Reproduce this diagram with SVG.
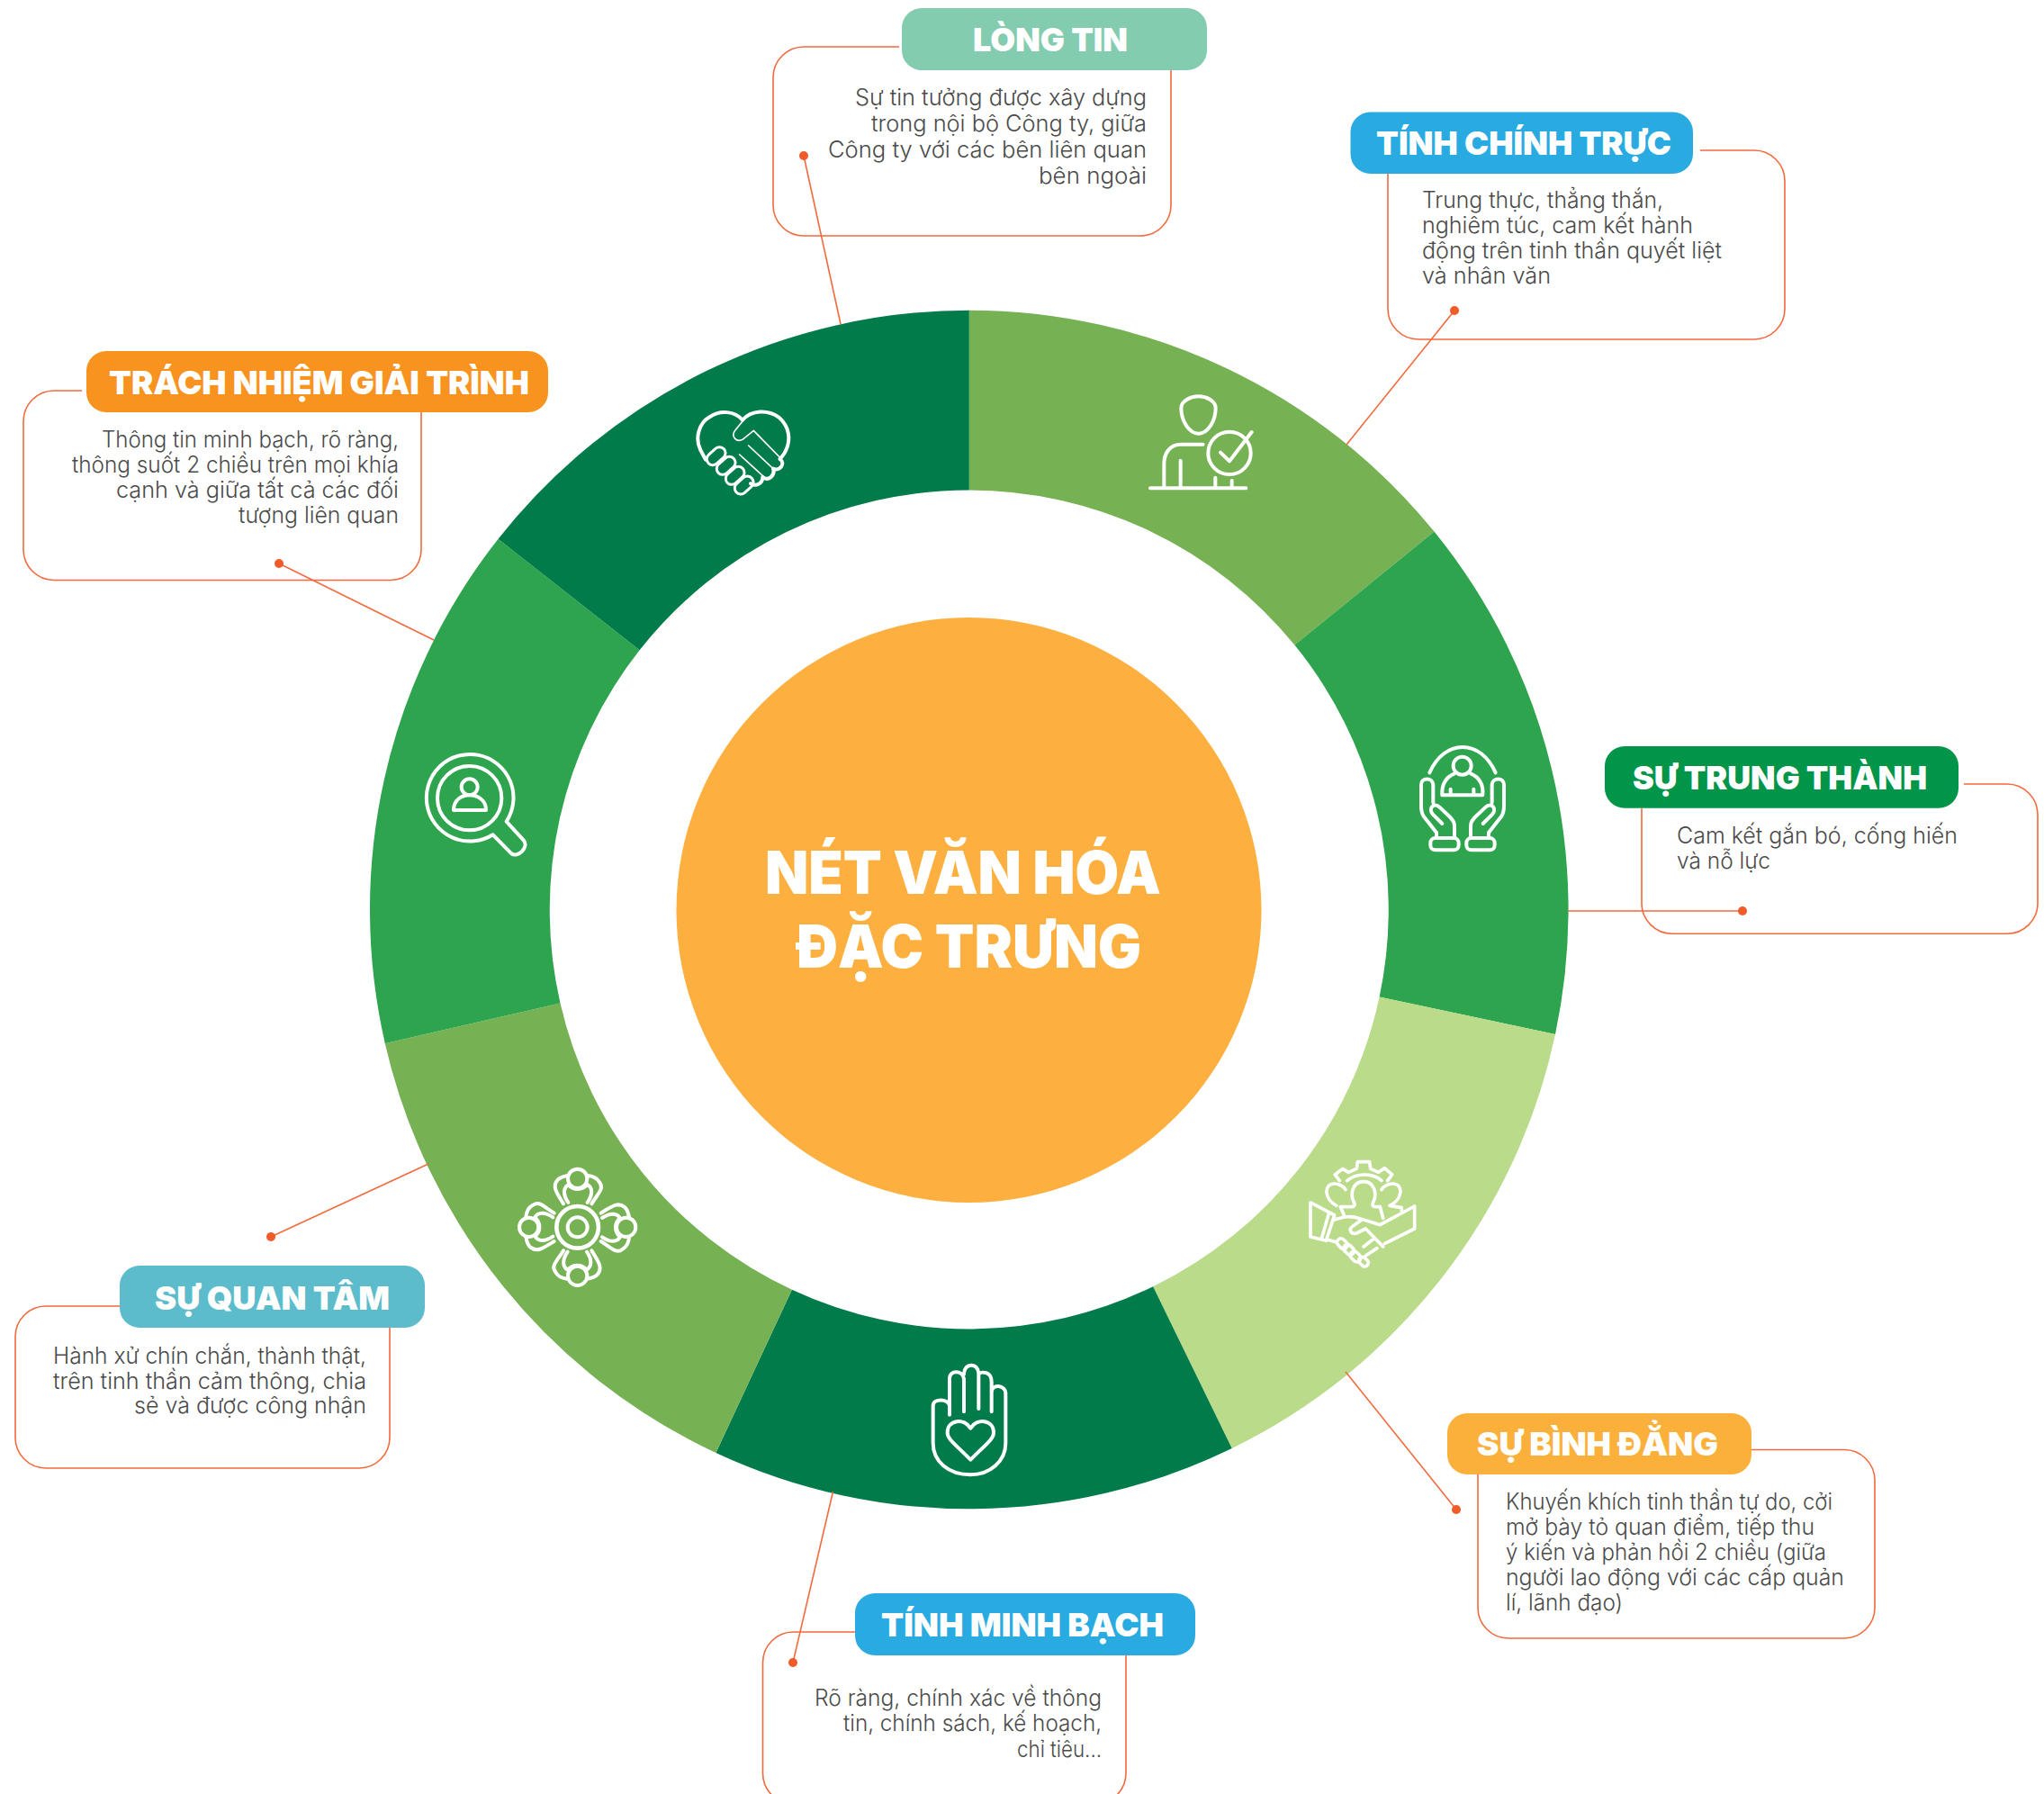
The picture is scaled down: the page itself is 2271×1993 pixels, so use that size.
<svg xmlns="http://www.w3.org/2000/svg" width="2271" height="1993" viewBox="0 0 2271 1993">
<style>
text{font-family:"Inter","Noto Sans","Liberation Sans",sans-serif}
.b{font-size:25px;font-weight:300;fill:#4a4a4a}
.t{font-size:36px;font-weight:900;fill:#fff}
.c{font-size:66px;font-weight:900;fill:#fff}
.o{fill:none;stroke:#F26A3D;stroke-width:1.6}
.i{fill:none;stroke:#fff;stroke-width:12;stroke-linecap:round;stroke-linejoin:round}
.th{stroke-width:5}
.d{fill:#F15A29}
</style>
<defs>
<g id="pers">
<circle cx="245" cy="88" r="32"/>
<path d="M198 172C175 135 160 115 178 93C185 85 200 80 212 78M280 78C295 80 310 85 318 100C335 120 315 135 292 172M214 168C195 140 198 118 215 108C230 128 260 128 278 108C295 118 297 140 278 168"/>
</g>
</defs>
<rect width="2271" height="1993" fill="#fff"/>
<g id="ring">
<path fill="#76B153" d="M1076.800 344.700A665.800 665.800 0 0 1 1593.500 590.600L1438.400 716.600A466 466 0 0 0 1076.800 544.500Z"/>
<path fill="#2EA44E" d="M1593.500 590.600A665.800 665.800 0 0 1 1728 1148.900L1532.600 1107.400A466 466 0 0 0 1438.400 716.600Z"/>
<path fill="#B9DB8A" d="M1728 1148.900A665.800 665.800 0 0 1 1368.700 1608.900L1281.100 1429.300A466 466 0 0 0 1532.600 1107.400Z"/>
<path fill="#017B49" d="M1368.700 1608.900A665.800 665.800 0 0 1 795.400 1613.900L879.900 1432.800A466 466 0 0 0 1281.100 1429.300Z"/>
<path fill="#76B153" d="M795.400 1613.900A665.800 665.800 0 0 1 427.800 1159.200L622.500 1114.600A466 466 0 0 0 879.900 1432.800Z"/>
<path fill="#2EA44E" d="M427.800 1159.200A665.800 665.800 0 0 1 553.500 598.800L710.600 722.300A466 466 0 0 0 622.500 1114.600Z"/>
<path fill="#017B49" d="M553.500 598.800A665.800 665.800 0 0 1 1076.800 344.700V544.500A466 466 0 0 0 710.600 722.300Z"/>
</g>
<g id="center">
<circle cx="1076.500" cy="1011" r="325" fill="#FDB040"/>
<text class="c" x="850" y="993" textLength="440" lengthAdjust="spacingAndGlyphs">NÉT VĂN HÓA</text>
<text class="c" x="885" y="1075" textLength="383" lengthAdjust="spacingAndGlyphs">ĐẶC TRƯNG</text>
</g>
<g id="connectors">
<g class="o">
<path d="M893 173L934 360"/>
<path d="M1616 345L1496 494"/>
<path d="M1741.700 1012H1936"/>
<path d="M1495 1524L1618 1677"/>
<path d="M925.500 1657L881 1847"/>
<path d="M476 1293L301 1374"/>
<path d="M482 711L310 626"/>
</g>
<circle class="d" cx="893" cy="173" r="5"/>
<circle class="d" cx="1616" cy="345" r="5"/>
<circle class="d" cx="1936" cy="1012" r="5"/>
<circle class="d" cx="1618" cy="1677" r="5"/>
<circle class="d" cx="881" cy="1847" r="5"/>
<circle class="d" cx="301" cy="1374" r="5"/>
<circle class="d" cx="310" cy="626" r="5"/>
</g>
<g id="long-tin">
<path class="o" d="M999 52H893A34 34 0 0 0 859 86V228A34 34 0 0 0 893 262H1267A34 34 0 0 0 1301 228V78"/>
<rect x="1002" y="9" width="339" height="69" rx="22" fill="#83CCAF"/>
<text class="t" x="1081" y="57" textLength="172" lengthAdjust="spacingAndGlyphs">LÒNG TIN</text>
<text class="b" x="950" y="117" textLength="324" lengthAdjust="spacingAndGlyphs">Sự tin tưởng được xây dựng</text>
<text class="b" x="968" y="146" textLength="306" lengthAdjust="spacingAndGlyphs">trong nội bộ Công ty, giữa</text>
<text class="b" x="920" y="175" textLength="354" lengthAdjust="spacingAndGlyphs">Công ty với các bên liên quan</text>
<text class="b" x="1154" y="204" textLength="120" lengthAdjust="spacingAndGlyphs">bên ngoài</text>
</g>
<g id="tinh-chinh-truc">
<path class="o" d="M1889 167H1949A34 34 0 0 1 1983 201V343A34 34 0 0 1 1949 377H1576A34 34 0 0 1 1542 343V193"/>
<rect x="1500.500" y="124.500" width="380.500" height="68.500" rx="22" fill="#29ABE2"/>
<text class="t" x="1529" y="171.500" textLength="328" lengthAdjust="spacingAndGlyphs">TÍNH CHÍNH TRỰC</text>
<text class="b" x="1580" y="231" textLength="268" lengthAdjust="spacingAndGlyphs">Trung thực, thẳng thắn,</text>
<text class="b" x="1580" y="259" textLength="301" lengthAdjust="spacingAndGlyphs">nghiêm túc, cam kết hành</text>
<text class="b" x="1580" y="287" textLength="333" lengthAdjust="spacingAndGlyphs">động trên tinh thần quyết liệt</text>
<text class="b" x="1580" y="315" textLength="143" lengthAdjust="spacingAndGlyphs">và nhân văn</text>
</g>
<g id="su-trung-thanh">
<path class="o" d="M2182 871H2230A34 34 0 0 1 2264 905V1003.300A34 34 0 0 1 2230 1037.300H1858A34 34 0 0 1 1824 1003.300V898"/>
<rect x="1783" y="829" width="393" height="68.700" rx="22" fill="#009548"/>
<text class="t" x="1814" y="876.700" textLength="327" lengthAdjust="spacingAndGlyphs">SỰ TRUNG THÀNH</text>
<text class="b" x="1863" y="936.700" textLength="312" lengthAdjust="spacingAndGlyphs">Cam kết gắn bó, cống hiến</text>
<text class="b" x="1863" y="965" textLength="104" lengthAdjust="spacingAndGlyphs">và nỗ lực</text>
</g>
<g id="su-binh-dang">
<path class="o" d="M1946 1610.500H2049A34 34 0 0 1 2083 1644.500V1786A34 34 0 0 1 2049 1820H1676A34 34 0 0 1 1642 1786V1638"/>
<rect x="1608" y="1570" width="338" height="68" rx="22" fill="#FBB03B"/>
<text class="t" x="1641" y="1617" textLength="268" lengthAdjust="spacingAndGlyphs">SỰ BÌNH ĐẲNG</text>
<text class="b" x="1673" y="1677" textLength="363" lengthAdjust="spacingAndGlyphs">Khuyến khích tinh thần tự do, cởi</text>
<text class="b" x="1673" y="1705" textLength="343" lengthAdjust="spacingAndGlyphs">mở bày tỏ quan điểm, tiếp thu</text>
<text class="b" x="1673" y="1732.500" textLength="356" lengthAdjust="spacingAndGlyphs">ý kiến và phản hồi 2 chiều (giữa</text>
<text class="b" x="1673" y="1761" textLength="376" lengthAdjust="spacingAndGlyphs">người lao động với các cấp quản</text>
<text class="b" x="1673" y="1789" textLength="130" lengthAdjust="spacingAndGlyphs">lí, lãnh đạo)</text>
</g>
<g id="tinh-minh-bach">
<path class="o" d="M950 1813H881.500A34 34 0 0 0 847.500 1847V1970A34 34 0 0 0 881.500 2004H1217A34 34 0 0 0 1251 1970V1839"/>
<rect x="950" y="1770" width="378" height="69" rx="22" fill="#29ABE2"/>
<text class="t" x="979" y="1818" textLength="314" lengthAdjust="spacingAndGlyphs">TÍNH MINH BẠCH</text>
<text class="b" x="905" y="1895" textLength="319" lengthAdjust="spacingAndGlyphs">Rõ ràng, chính xác về thông</text>
<text class="b" x="937" y="1923" textLength="287" lengthAdjust="spacingAndGlyphs">tin, chính sách, kế hoạch,</text>
<text class="b" x="1130" y="1952" textLength="94" lengthAdjust="spacingAndGlyphs">chỉ tiêu...</text>
</g>
<g id="su-quan-tam">
<path class="o" d="M133 1451H51A34 34 0 0 0 17 1485V1597A34 34 0 0 0 51 1631H399A34 34 0 0 0 433 1597V1475"/>
<rect x="133" y="1406" width="339" height="69" rx="22" fill="#5CBCCB"/>
<text class="t" x="172" y="1455" textLength="261" lengthAdjust="spacingAndGlyphs">SỰ QUAN TÂM</text>
<text class="b" x="59" y="1515" textLength="348" lengthAdjust="spacingAndGlyphs">Hành xử chín chắn, thành thật,</text>
<text class="b" x="59" y="1543" textLength="348" lengthAdjust="spacingAndGlyphs">trên tinh thần cảm thông, chia</text>
<text class="b" x="149" y="1570" textLength="258" lengthAdjust="spacingAndGlyphs">sẻ và được công nhận</text>
</g>
<g id="trach-nhiem">
<path class="o" d="M91 434H60A34 34 0 0 0 26 468V610.500A34 34 0 0 0 60 644.500H434A34 34 0 0 0 468 610.500V458"/>
<rect x="96" y="390" width="513" height="68" rx="22" fill="#F7931E"/>
<text class="t" x="121" y="438" textLength="467" lengthAdjust="spacingAndGlyphs">TRÁCH NHIỆM GIẢI TRÌNH</text>
<text class="b" x="113" y="497" textLength="330" lengthAdjust="spacingAndGlyphs">Thông tin minh bạch, rõ ràng,</text>
<text class="b" x="80" y="525" textLength="363" lengthAdjust="spacingAndGlyphs">thông suốt 2 chiều trên mọi khía</text>
<text class="b" x="129" y="553" textLength="314" lengthAdjust="spacingAndGlyphs">cạnh và giữa tất cả các đối</text>
<text class="b" x="265" y="581" textLength="178" lengthAdjust="spacingAndGlyphs">tượng liên quan</text>
</g>
<g id="icon-person-check" class="i" transform="translate(1240 400) scale(.3333)">
<path d="M275 121C300 121 332 135 332 160C332 205 305 245 275 245C245 245 217 205 217 160C217 135 250 121 275 121Z"/>
<path d="M290 281H215C185 281 160 305 160 345V425M215 335V425M114 427H433M331 392V425M386 402V425M348 308L378 337L452 240"/>
<circle cx="378" cy="310" r="71"/>
</g>
<g id="icon-hands" class="i" transform="translate(1540 800) scale(.3333)">
<path d="M145 175C170 120 210 90 255 90C300 90 340 120 365 175"/>
<circle cx="254" cy="152" r="30"/>
<path d="M228 178C200 190 185 215 187 250H322C325 215 310 190 282 178M215 230V250M292 230V250"/>
<g>
<rect x="148" y="393" width="94" height="40" rx="16"/>
<path d="M168 390V375L125 320C118 310 117 300 117 285V215C117 190 155 190 157 215V275M187 345L155 313C140 295 160 272 178 290L215 325C228 340 228 345 228 360V390"/>
</g>
<g transform="translate(510 0) scale(-1 1)">
<rect x="148" y="393" width="94" height="40" rx="16"/>
<path d="M168 390V375L125 320C118 310 117 300 117 285V215C117 190 155 190 157 215V275M187 345L155 313C140 295 160 272 178 290L215 325C228 340 228 345 228 360V390"/>
</g>
</g>
<g id="icon-partnership" class="i" style="stroke-width:11" transform="translate(1430 1270) scale(.3333)">
<path d="M175 125L160 105L185 85L205 97L232 85L235 62H275L278 85L305 97L325 83L350 105L335 125M200 125C215 112 235 105 258 105C280 105 300 112 315 125"/>
<path d="M190 240L178 212H215C225 212 228 205 222 195C210 170 218 128 255 128C292 128 300 170 288 195C282 205 285 212 295 212H310L320 250"/>
<path d="M165 208C125 190 120 135 158 135C175 135 190 145 195 155M342 208C385 190 390 135 352 135C335 135 320 145 315 155M342 208L382 215V225"/>
<path d="M78 198L158 240L130 325L78 312ZM140 232L115 318M158 255C190 245 210 240 245 252L310 272L425 210V285L325 335"/>
<path d="M245 258L215 280C205 290 215 305 232 300L262 285L320 345M285 322L255 345M262 375L300 350M135 322L165 330"/>
<rect x="165" y="322" width="38" height="26" rx="12" transform="rotate(45 184 335)"/>
<rect x="187" y="342" width="38" height="26" rx="12" transform="rotate(45 206 355)"/>
<rect x="209" y="365" width="38" height="26" rx="12" transform="rotate(45 228 378)"/>
<rect x="238" y="383" width="34" height="24" rx="11" transform="rotate(45 255 395)"/>
</g>
<g id="icon-palm" class="i" transform="translate(1010 1490) scale(.3333)">
<path d="M135 245V215C130 190 80 190 80 215V340C80 400 130 445 205 445C270 445 322 400 322 340V175C322 145 275 140 275 170V235M135 245V125C135 95 178 95 183 125V235M183 110C183 70 232 70 232 110V225M232 110C240 100 275 100 275 135V170"/>
<path d="M205 290C185 255 128 260 128 305C128 325 150 340 205 395C260 340 282 325 282 305C282 260 225 255 205 290Z"/>
</g>
<g id="icon-people" class="i" transform="translate(560 1280) scale(.3333)">
<circle cx="245" cy="250" r="70" stroke-width="14"/>
<circle cx="245" cy="250" r="33"/>
<use href="#pers"/>
<use href="#pers" transform="rotate(90 245 250)"/>
<use href="#pers" transform="rotate(180 245 250)"/>
<use href="#pers" transform="rotate(270 245 250)"/>
</g>
<g id="icon-search" class="i" transform="translate(460 820) scale(.3333)">
<path d="M308 278A145 145 0 1 0 263 322L325 385C345 400 385 365 365 340Z"/>
<circle cx="185" cy="200" r="107"/>
<circle cx="185" cy="163" r="27"/>
<path d="M132 240C132 205 160 190 185 190C210 190 240 205 240 240Z"/>
</g>
<g id="icon-heart" class="i" transform="translate(760 450) scale(.3333)">
<path d="M195 50C170 20 120 15 85 40C50 60 35 110 55 150L72 182M195 50C225 15 280 15 315 40C350 70 360 115 335 160L320 180"/>
<path d="M320 180C340 195 318 222 297 212C305 235 280 255 262 240C262 262 240 272 222 262"/>
<path class="th" d="M200 48L170 85C155 105 175 125 195 115L232 85L325 180M295 210L215 135M265 238L185 165"/>
<rect x="72" y="150" width="70" height="40" rx="20" stroke-width="9" transform="rotate(-42 107 170)"/>
<rect x="105" y="182" width="70" height="40" rx="20" stroke-width="9" transform="rotate(-42 140 202)"/>
<rect x="135" y="215" width="70" height="40" rx="20" stroke-width="9" transform="rotate(-42 170 235)"/>
<rect x="165" y="247" width="70" height="40" rx="20" stroke-width="9" transform="rotate(-42 200 267)"/>
</g>
</svg>
